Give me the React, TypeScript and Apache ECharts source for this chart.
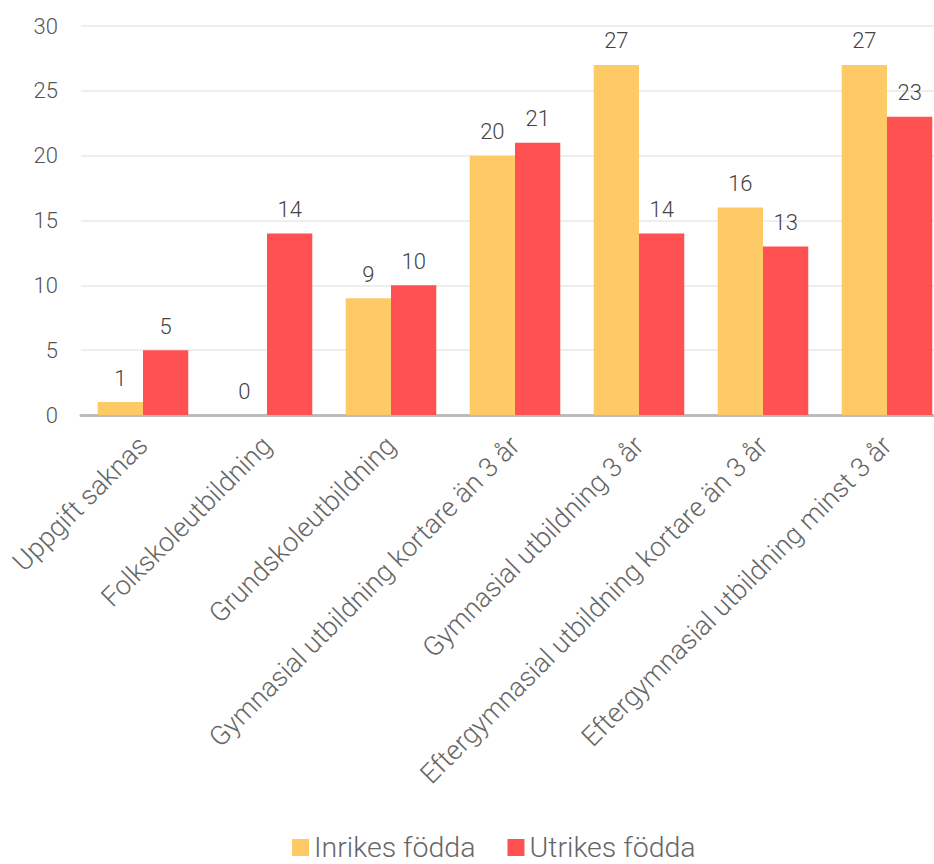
import React, { useEffect, useRef } from "react";
import * as echarts from "echarts";

const categories = [
  "Uppgift saknas",
  "Folkskoleutbildning",
  "Grundskoleutbildning",
  "Gymnasial utbildning kortare än 3 år",
  "Gymnasial utbildning 3 år",
  "Eftergymnasial utbildning kortare än 3 år",
  "Eftergymnasial utbildning minst 3 år",
];
const inrikes = [1, 0, 9, 20, 27, 16, 27];
const utrikes = [5, 14, 10, 21, 14, 13, 23];
const seriesNames = ["Inrikes födda", "Utrikes födda"];
const yTicks = { min: 0, max: 30, interval: 5 };

const FONT = "Roboto";

export default function App() {
  const ref = useRef<HTMLDivElement>(null);
  useEffect(() => {
    const chart = echarts.init(ref.current!, undefined, { renderer: "svg" });
    const labelStyle = {
      show: true,
      position: "top" as const,
      distance: 13,
      color: "#444",
      fontSize: 22,
      fontFamily: FONT,
      fontWeight: 300 as any,
    };
    chart.setOption({
      animation: false,
      textStyle: { fontFamily: FONT },
      grid: { left: 81, right: 1, top: 26, height: 389, containLabel: false },
      legend: {
        bottom: -3,
        left: 287,
        itemWidth: 17,
        itemHeight: 17,
        itemGap: 32,
        icon: "rect",
        textStyle: { fontSize: 28.5, color: "#666", fontFamily: FONT, fontWeight: 300 as any },
        data: seriesNames,
      },
      xAxis: {
        type: "category",
        data: categories,
        axisLine: { lineStyle: { color: "#bbb", width: 3 } },
        axisTick: { show: false },
        axisLabel: {
          rotate: 45,
          interval: 0,
          color: "#666",
          fontSize: 27,
          fontFamily: FONT,
          fontWeight: 300 as any,
          margin: 26,
        },
      },
      yAxis: {
        type: "value",
        min: yTicks.min,
        max: yTicks.max,
        interval: yTicks.interval,
        axisLine: { show: false },
        axisTick: { show: false },
        splitLine: { lineStyle: { color: "#eee", width: 2 } },
        axisLabel: { color: "#555", fontSize: 22, fontFamily: FONT, fontWeight: 300 as any, margin: 23 },
      },
      series: [
        {
          name: seriesNames[0],
          type: "bar",
          data: inrikes,
          barGap: "0%",
          barCategoryGap: "27%",
          itemStyle: { color: "#FECA66" },
          label: labelStyle,
        },
        {
          name: seriesNames[1],
          type: "bar",
          data: utrikes,
          barGap: "0%",
          barCategoryGap: "27%",
          itemStyle: { color: "#FF5151" },
          label: labelStyle,
        },
      ],
    });
    return () => chart.dispose();
  }, []);
  return (
    <div
      style={{ position: "absolute", left: 0, top: 0, width: 934, height: 864, overflow: "hidden", background: "#fff" }}
    >
      <div ref={ref} style={{ position: "absolute", left: 0, top: 0, width: 950, height: 864 }} />
    </div>
  );
}
